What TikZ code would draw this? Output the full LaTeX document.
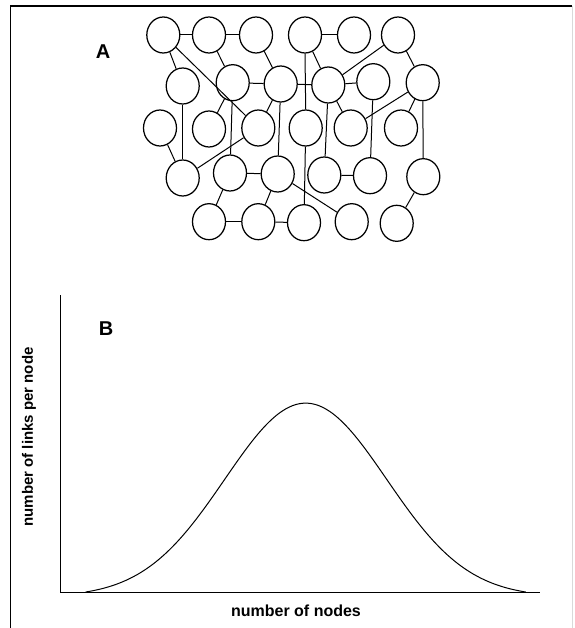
\documentclass[tikz,border=0pt]{standalone}
\usepackage{fontspec}
\setmainfont{Liberation Sans}
\usetikzlibrary{shapes.geometric}
\tikzset{
  nd/.style={draw, ellipse, fill=white, line width=1.25pt, minimum width=33pt, minimum height=36pt, inner sep=0pt},
  lk/.style={line width=1pt},
  frameline/.style={line width=1.6pt},
  panel/.style={font=\bfseries\fontsize{20}{20}\selectfont, inner sep=0pt},
  axlabel/.style={font=\bfseries\fontsize{16}{16}\selectfont, inner sep=0pt}
}
\begin{document}
\begin{tikzpicture}[x=1pt,y=-1pt]
\useasboundingbox (0,0) rectangle (574,628);
% frame
\coordinate (fbl) at (10.5,628);
\coordinate (ftl) at (10.5,6);
\coordinate (ftr) at (572,6);
\draw[frameline] (fbl) -- (ftl) -- (ftr);
\coordinate (frb) at (572,628);
\draw[line width=0.6pt, black!15] (ftr) -- (frb);

% panel labels
\node[panel] (labA) at (103,51.5) {A};
\node[panel] (labB) at (106,328.5) {B};

% network nodes
\node[nd] (n11) at (163.3,35) {};
\node[nd] (n12) at (209,35) {};
\node[nd] (n13) at (256,35) {};
\node[nd] (n14) at (305,35) {};
\node[nd] (n15) at (354,35) {};
\node[nd] (n16) at (398,35) {};

\node[nd] (n21) at (182.7,86) {};
\node[nd] (n22) at (232.7,82.7) {};
\node[nd] (n23) at (280.7,84) {};
\node[nd] (n24) at (328.3,85) {};
\node[nd] (n25) at (373.3,81.7) {};
\node[nd] (n26) at (422.7,82.7) {};

\node[nd] (n31) at (160,128) {};
\node[nd] (n32) at (209,129) {};
\node[nd] (n33) at (258.3,128) {};
\node[nd] (n34) at (305.7,128) {};
\node[nd] (n35) at (350.7,128) {};
\node[nd] (n36) at (401,128) {};

\node[nd] (n41) at (182.7,178) {};
\node[nd] (n42) at (230,173) {};
\node[nd] (n43) at (277.7,174) {};
\node[nd] (n44) at (324.3,175) {};
\node[nd] (n45) at (370,175.7) {};
\node[nd] (n46) at (423.3,176.7) {};

\node[nd] (n51) at (209,221.7) {};
\node[nd] (n52) at (258.3,221.7) {};
\node[nd] (n53) at (304,222.7) {};
\node[nd] (n54) at (351.7,221.7) {};
\node[nd] (n55) at (396.7,223.3) {};

% links
\foreach \a/\b in {n11/n12, n12/n13, n14/n15, n11/n21, n11/n33, n12/n22, n13/n23,
  n22/n23, n23/n24, n14/n24, n16/n24, n24/n25, n16/n26, n21/n41, n31/n41,
  n22/n32, n22/n42, n23/n33, n33/n41, n23/n43, n24/n44, n24/n35, n26/n35,
  n26/n36, n25/n45, n26/n46, n34/n53, n42/n43, n44/n45, n42/n51, n43/n52,
  n43/n54, n46/n55, n51/n52, n52/n53}
  \draw[lk] (\a) -- (\b);
\draw[lk] (n14.south) -- (n34.north);

% chart
\coordinate (ytop) at (60.7,295);
\coordinate (xend) at (540,592);
\draw[line width=1pt] (ytop) |- (xend);
\draw[line width=1pt, domain=85.7:525.7, samples=120, smooth]
  plot (\x, {592 - 193.7*(exp(-0.5*((\x-305.7)/81)^2) - 0.025)});

\node[axlabel] (xlab) at (296,611) {number of nodes};
\node[axlabel, font=\bfseries\fontsize{15}{15}\selectfont, rotate=90] (ylab) at (29,437) {number of links per node};
\end{tikzpicture}
\end{document}
